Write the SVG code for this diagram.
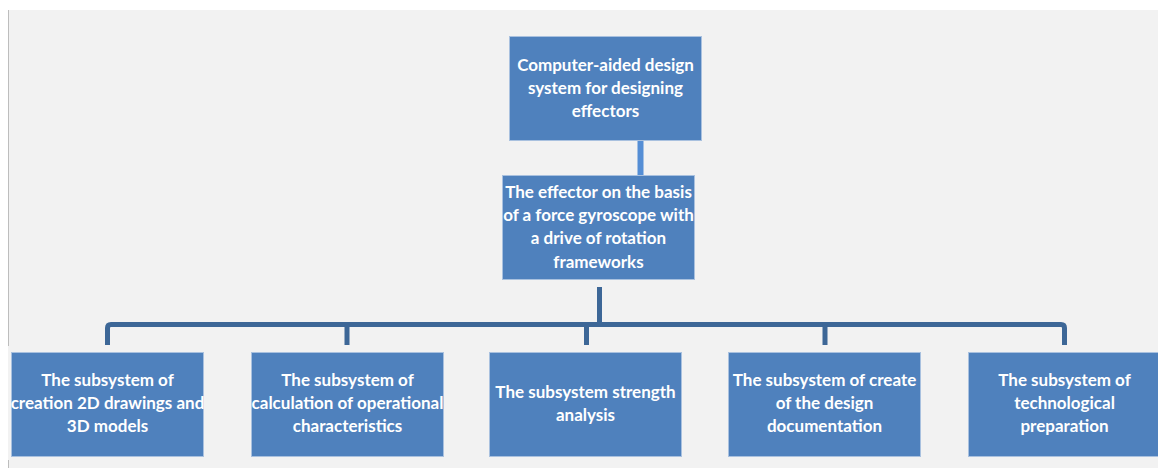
<svg xmlns="http://www.w3.org/2000/svg" width="1158" height="468" viewBox="0 0 1158 468">
<style>
.box{fill:#4f81bd;stroke:#a9c1df;stroke-width:1}
.t{font-family:Lato,"Open Sans","Liberation Sans",sans-serif;font-weight:bold;font-size:17px;fill:#ffffff;text-anchor:middle}
.c1{stroke:#558ed5;stroke-width:6;fill:none}
.c2{stroke:#3d6797;stroke-width:5;fill:none;stroke-linejoin:round}
</style>
<rect x="0" y="0" width="1158" height="468" fill="#ffffff"/>
<rect x="8" y="10" width="1150" height="458" fill="#f2f2f2"/>
<line x1="8.5" y1="10" x2="8.5" y2="346" stroke="#bdbdbd" stroke-width="1"/>
<line x1="8.5" y1="460" x2="8.5" y2="468" stroke="#bdbdbd" stroke-width="1"/>
<g id="connectors">
<line class="c1" x1="640.5" y1="141" x2="640.5" y2="175"/>
<line class="c2" x1="599.5" y1="287" x2="599.5" y2="324.5"/>
<path class="c2" d="M107.5 345 V328 Q107.5 324.5 111 324.5 H1061 Q1064.5 324.5 1064.5 328 V345"/>
<line class="c2" x1="347" y1="324.5" x2="347" y2="345"/>
<line class="c2" x1="586.5" y1="324.5" x2="586.5" y2="345"/>
<line class="c2" x1="825" y1="324.5" x2="825" y2="345"/>
</g>
<g id="n0">
<rect class="box" x="509.5" y="36.5" width="192" height="104"/>
<text class="t" x="605.5" y="70.5">Computer-aided design</text>
<text class="t" x="605.5" y="93.5">system for designing</text>
<text class="t" x="605.5" y="117">effectors</text>
</g>
<g id="n1">
<rect class="box" x="502.5" y="175.5" width="192" height="104"/>
<text class="t" x="598.5" y="198">The effector on the basis</text>
<text class="t" x="598.5" y="221">of a force gyroscope with</text>
<text class="t" x="598.5" y="244">a drive of rotation</text>
<text class="t" x="598.5" y="268">frameworks</text>
</g>
<g id="n2">
<rect class="box" x="11.5" y="352.5" width="192" height="104"/>
<text class="t" x="107.5" y="386">The subsystem of</text>
<text class="t" x="107.5" y="409">creation 2D drawings and</text>
<text class="t" x="107.5" y="432">3D models</text>
</g>
<g id="n3">
<rect class="box" x="251.5" y="352.5" width="192" height="104"/>
<text class="t" x="347.5" y="386">The subsystem of</text>
<text class="t" x="347.5" y="409">calculation of operational</text>
<text class="t" x="347.5" y="432">characteristics</text>
</g>
<g id="n4">
<rect class="box" x="489.5" y="352.5" width="192" height="104"/>
<text class="t" x="585.5" y="398">The subsystem strength</text>
<text class="t" x="585.5" y="421">analysis</text>
</g>
<g id="n5">
<rect class="box" x="728.5" y="352.5" width="192" height="104"/>
<text class="t" x="824.5" y="386">The subsystem of create</text>
<text class="t" x="824.5" y="409">of the design</text>
<text class="t" x="824.5" y="432">documentation</text>
</g>
<g id="n6">
<rect class="box" x="968.5" y="352.5" width="192" height="104"/>
<text class="t" x="1064.5" y="386">The subsystem of</text>
<text class="t" x="1064.5" y="409">technological</text>
<text class="t" x="1064.5" y="432">preparation</text>
</g>
</svg>
